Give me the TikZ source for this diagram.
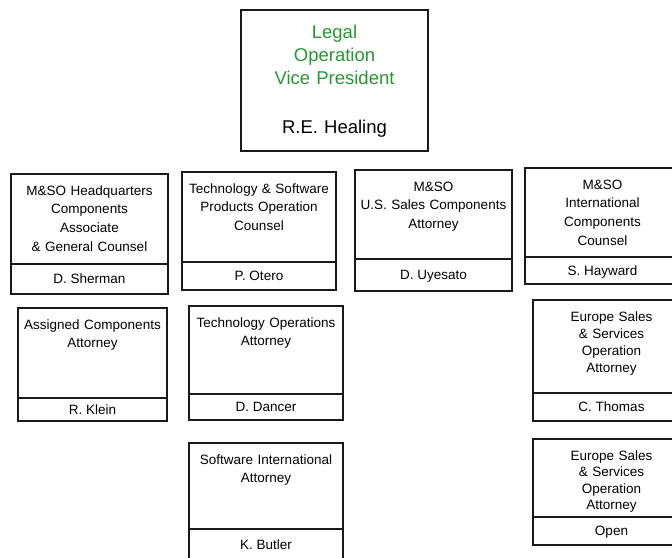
\documentclass[tikz,border=0pt]{standalone}
\usepackage{fontspec}
\setmainfont{Liberation Sans}
\definecolor{legalgreen}{RGB}{40,150,50}
\newcommand\orgbox[9][]{%
  \node[frame, minimum width={#5pt-#3pt}, minimum height={#6pt-#4pt}] (#2) at (#3,#4) {};
  \node[frame, nm, minimum width={#5pt-#3pt}, minimum height={#7pt-#6pt}] (#2n) at (#2.south west) {#9};
  \node[ttl, #1] (#2t) at ([yshift=-21pt]#2.north) {#8};
}
\begin{document}
\begin{tikzpicture}[x=1pt,y=-1pt,
  frame/.style={draw=black!90, line width=1.8pt, inner sep=0pt, outer sep=0pt, anchor=north west},
  ttl/.style={anchor=base, align=center, text width=160pt, inner sep=0pt, font=\fontsize{13.5}{18.7}\selectfont},
  tight/.style={font=\fontsize{13.5}{17}\selectfont},
  tighter/.style={font=\fontsize{13.5}{16.6}\selectfont},
  nm/.style={font=\fontsize{13.5}{16}\selectfont, text height=9.7pt, text depth=0pt},
  big/.style={anchor=base, align=center, text width=180pt, inner sep=0pt, font=\fontsize{18.5}{23}\selectfont}
]
\useasboundingbox (0,0) rectangle (672,557);
\clip (0,0) rectangle (672,557);
% top box
\node[frame, minimum width=187pt, minimum height=141pt] (vp) at (241,10) {};
\node[big, text=legalgreen] (vpt) at ([yshift=-28.6pt]vp.north) {Legal\\Operation\\Vice President};
\node[big] (vpn) at ([yshift=-123.6pt]vp.north) {R.E. Healing};
% first row
\orgbox{A}{11}{174}{168}{264}{294}{M\&SO Headquarters\\Components\\Associate\\\& General Counsel}{D. Sherman}
\orgbox{B}{182}{172}{336}{262}{290}{Technology \& Software\\Products Operation\\Counsel}{P. Otero}
\orgbox{C}{355}{170}{512}{259}{291}{M\&SO\\U.S. Sales Components\\Attorney}{D. Uyesato}
\orgbox{D}{525}{168}{680}{257}{284}{M\&SO\\International\\Components\\Counsel}{S. Hayward}
% second row
\orgbox{E}{18}{308}{167}{398}{421}{Assigned Components\\Attorney}{R. Klein}
\orgbox{F}{189}{306}{343}{394}{420}{Technology Operations\\Attorney}{D. Dancer}
\orgbox[tight]{G}{533}{300}{690}{393}{421}{Europe Sales\\\& Services\\Operation\\Attorney}{C. Thomas}
% third row
\orgbox{I}{189}{443}{343}{529}{561}{Software International\\Attorney}{K. Butler}
\orgbox[tighter]{H}{533}{439}{690}{517}{545}{Europe Sales\\\& Services\\Operation\\Attorney}{Open}
\end{tikzpicture}
\end{document}
